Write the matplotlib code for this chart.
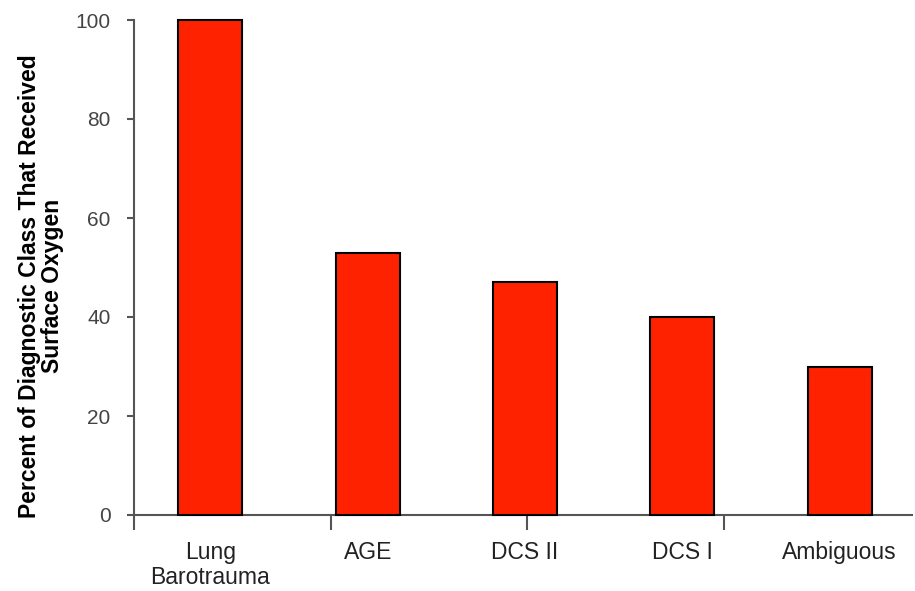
import matplotlib.pyplot as plt
import numpy as np

plt.rcParams['font.family'] = ['Liberation Sans', 'DejaVu Sans']

# data
categories = ['Lung\nBarotrauma', 'AGE', 'DCS II', 'DCS I', 'Ambiguous']
percent = [100, 53, 47, 40, 30]
y_ticks = [0, 20, 40, 60, 80, 100]

fig = plt.figure(figsize=(9.15, 5.91), dpi=100)
ax = fig.add_axes([134 / 915, 76 / 591, (912 - 134) / 915, (515 - 20) / 591])

x = np.arange(len(categories))
ax.bar(x, percent, width=0.407, color='#ff2200', edgecolor='black',
       linewidth=1.5, clip_on=False, zorder=3)

ax.set_ylim(0, 100)
ax.set_xlim(-0.486, 4.46)

for side in ['top', 'right']:
    ax.spines[side].set_visible(False)
for side in ['left', 'bottom']:
    ax.spines[side].set_color('#555555')
    ax.spines[side].set_linewidth(1.5)

ax.set_yticks(y_ticks)
ax.set_yticklabels([str(v) for v in y_ticks], fontsize=15, color='#444444')
ax.tick_params(axis='y', direction='out', length=5, width=1.5, color='#555555', pad=12)

# major x ticks are just marks, labels sit on minor ticks at the bar centres
xt = -0.486 + 1.25 * np.arange(4)
ax.set_xticks(xt)
ax.set_xticklabels([''] * len(xt))
ax.tick_params(axis='x', which='major', direction='out', length=11, width=1.5, color='#555555')
ax.set_xticks(x, minor=True)
ax.set_xticklabels(categories, minor=True, fontsize=16.5, color='#222222', linespacing=1.1)
ax.tick_params(axis='x', which='minor', length=0, pad=19)

fig.text(41 / 915, 1 - 286 / 591,
         'Percent of Diagnostic Class That Received\nSurface Oxygen',
         rotation=90, ha='center', va='center', fontsize=16.5,
         fontweight='bold', linespacing=1.0)

fig.savefig('out.png', dpi=100)
